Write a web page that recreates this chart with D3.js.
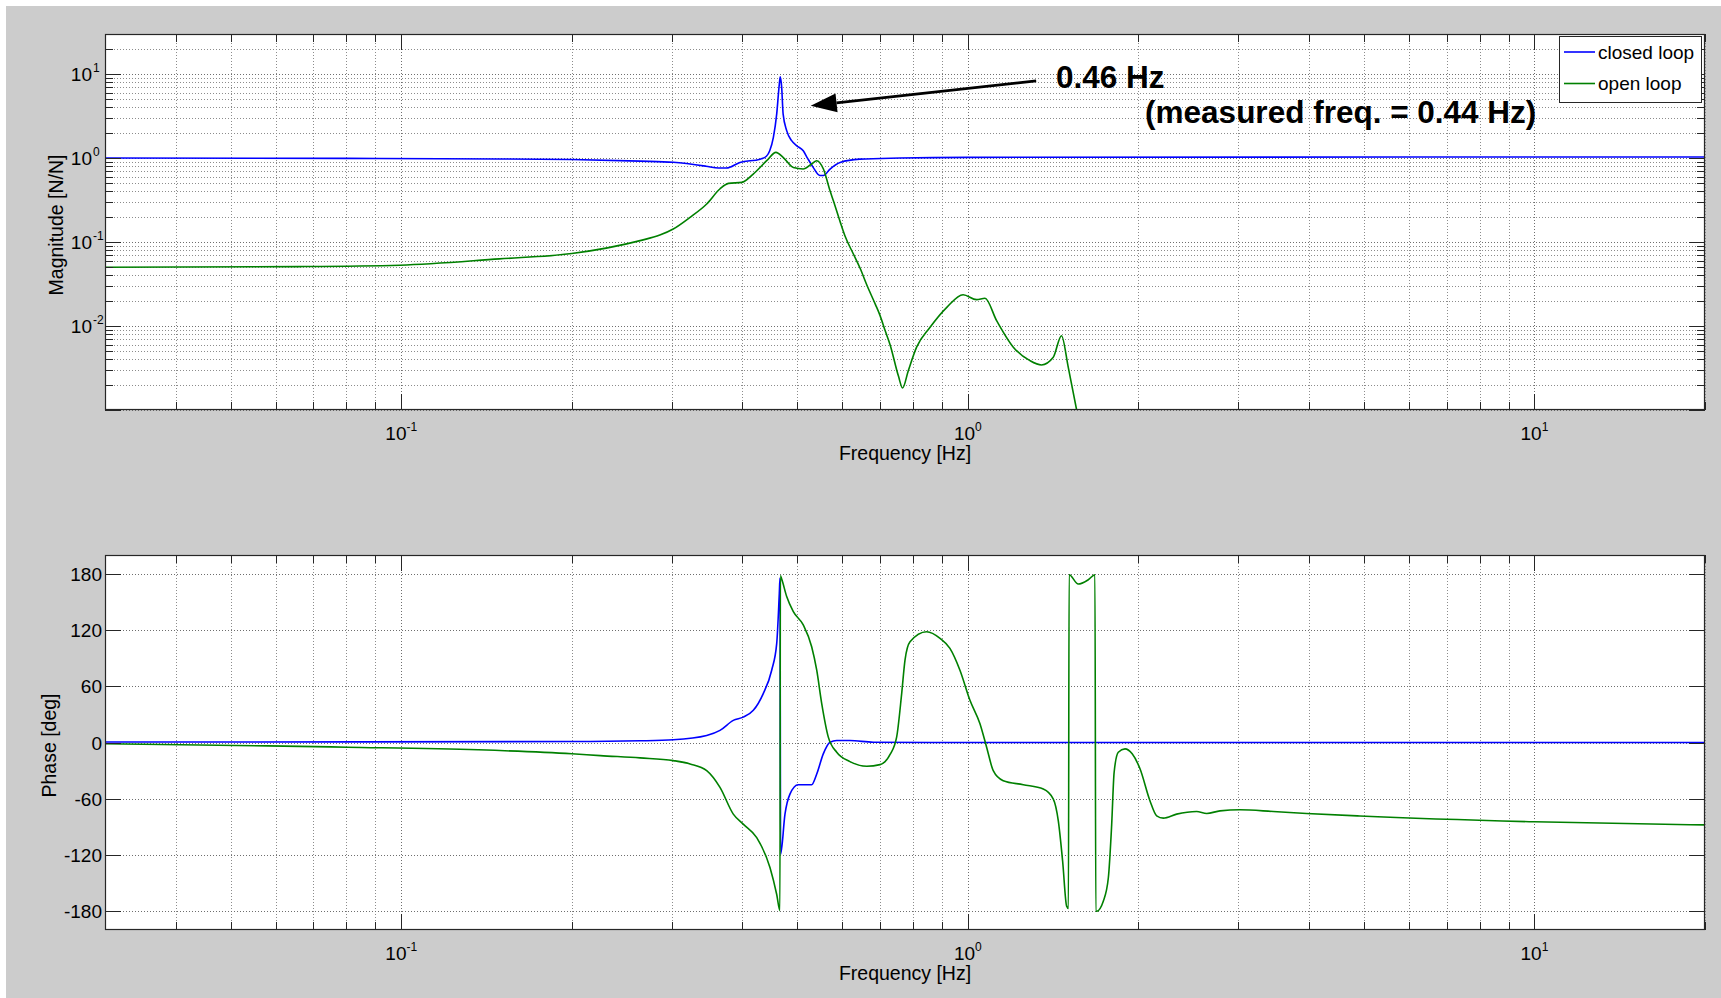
<!DOCTYPE html>
<html>
<head>
<meta charset="utf-8">
<script src="https://cdn.jsdelivr.net/npm/d3@7"></script>
<style>
  body { margin: 0; background: #fff; }
  text { font-family: "Liberation Sans", Arial, Helvetica, sans-serif; fill: #000; }
</style>
</head>
<body>
<div id="chart"></div>
<script>
// --- data ---
const seriesNames = ["closed loop", "open loop"];

// magnitude, closed loop
const freqClosedMag = [0.03, 0.08, 0.15, 0.2, 0.264, 0.302, 0.345, 0.363, 0.375, 0.396, 0.43, 0.441, 0.447, 0.4537, 0.4599, 0.4648, 0.4666, 0.4693, 0.472, 0.4789, 0.4886, 0.499, 0.5123, 0.5211, 0.533, 0.548, 0.556, 0.5712, 0.595, 0.645, 0.759, 1.0, 20];
const magClosed = [1.0, 0.99, 0.975, 0.96, 0.92, 0.89, 0.80, 0.76, 0.76, 0.887, 0.97, 1.05, 1.22, 1.76, 3.35, 7.6, 9.3, 6.9, 3.35, 2.12, 1.61, 1.40, 1.22, 1.0, 0.78, 0.62, 0.62, 0.74, 0.887, 0.97, 1.0, 1.02, 1.03];

// magnitude, open loop
const freqOpenMag = [0.03, 0.066, 0.0995, 0.149, 0.2, 0.264, 0.286, 0.302, 0.3234, 0.346, 0.365, 0.378, 0.399, 0.418, 0.4415, 0.4585, 0.472, 0.492, 0.512, 0.530, 0.541, 0.556, 0.571, 0.579, 0.595, 0.607, 0.628, 0.646, 0.663, 0.687, 0.700, 0.715, 0.729, 0.754, 0.767, 0.785, 0.812, 0.857, 0.918, 0.981, 1.036, 1.072, 1.124, 1.203, 1.287, 1.349, 1.415, 1.463, 1.504, 1.556];
const magOpen = [0.050, 0.051, 0.053, 0.063, 0.073, 0.104, 0.121, 0.143, 0.197, 0.284, 0.428, 0.50, 0.513, 0.645, 0.93, 1.17, 1.02, 0.77, 0.74, 0.85, 0.93, 0.74, 0.41, 0.31, 0.175, 0.118, 0.072, 0.048, 0.031, 0.018, 0.0133, 0.0087, 0.006, 0.00255, 0.00183, 0.00294, 0.0056, 0.0096, 0.0167, 0.0236, 0.0206, 0.0214, 0.0116, 0.0056, 0.00387, 0.00344, 0.00424, 0.00767, 0.00322, 0.001];

// phase, closed loop
const freqClosedPh = [0.03, 0.2, 0.264, 0.302, 0.346, 0.3652, 0.3855, 0.4014, 0.4182, 0.4354, 0.4506, 0.4599, 0.4648, 0.4661, 0.4672, 0.4756, 0.4853, 0.502, 0.5301, 0.5411, 0.5557, 0.5712, 0.5869, 0.6193, 0.681, 1.0, 20];
const phaseClosed = [0.5, 1.0, 1.8, 2.9, 7.5, 12.9, 23.6, 27.1, 34.3, 52.2, 77.1, 105.7, 159.3, 175.4, -119.3, -76.4, -55, -45, -45, -33.6, -12.1, 0.3, 2.1, 2.1, 0.3, 0, 0];

// phase, open loop
const freqOpenPh = [0.03, 0.0582, 0.0802, 0.1366, 0.2, 0.2245, 0.2639, 0.3021, 0.3234, 0.346, 0.3652, 0.3855, 0.4014, 0.424, 0.4476, 0.4599, 0.4660, 0.4668, 0.4693, 0.4789, 0.492, 0.5123, 0.5301, 0.5411, 0.5522, 0.5672, 0.5869, 0.6193, 0.663, 0.6998, 0.7286, 0.7487, 0.7642, 0.7746, 0.7906, 0.8459, 0.8932, 0.9298, 0.9684, 1.0086, 1.0505, 1.0793, 1.1087, 1.1547, 1.2527, 1.3587, 1.4153, 1.4443, 1.4698, 1.494, 1.505, 1.509, 1.5663, 1.6313, 1.6762, 1.682, 1.6877, 1.734, 1.770, 1.794, 1.812, 1.843, 1.894, 1.95, 2.013, 2.096, 2.154, 2.213, 2.336, 2.534, 2.640, 2.786, 3.022, 3.459, 3.962, 4.92, 10, 20];
const phaseOpen = [-1.4, -3.6, -5, -7.8, -12, -14, -16.4, -19.3, -22.9, -30, -47.9, -76.4, -87.1, -101.5, -133.6, -162.1, -179.3, 178, 174.3, 155.7, 139.6, 125.4, 102.1, 77.1, 41.5, 5.7, -10.4, -20.4, -25.4, -23.6, -13, 5.7, 52.2, 87.9, 107.5, 118.2, 111.1, 100.4, 77.1, 45, 20, -5, -30, -40.7, -45, -49.6, -60.3, -83.6, -126.4, -174.6, -177, 179, 169, 173.6, 178.9, -180, -180, -169.3, -144.3, -88, -32, -10.4, -6.8, -12.1, -28, -62.1, -78.2, -80.7, -76.4, -73.6, -75.7, -72.9, -71.8, -73.6, -75.7, -78.4, -84.6, -87.9];

// tick labels
const freqTickExps = [-1, 0, 1];
const magTickExps = [1, 0, -1, -2];
const phaseTicks = [-180, -120, -60, 0, 60, 120, 180];

// annotation (arrow from -> to, in data units)
const arrowFreq = [1.32, 0.528];
const arrowMag = [8.3, 4.2];
const noteLines = ["0.46 Hz", "(measured freq. = 0.44 Hz)"];
const noteFreq = [1.431, 2.055];
const noteMag = [6.8, 2.64];

// --- layout ---
const W = 1721, H = 998;
const plotLeft = 105, plotW = 1600;
const magTop = 34, magH = 376;
const phTop = 555, phH = 375;
const colors = ["#0000ff", "#008000"];
const axisColor = "#262626";

const svg = d3.select("#chart").append("svg")
    .attr("width", W)
    .attr("height", H);

svg.append("rect")
    .attr("x", 6).attr("y", 6)
    .attr("width", W - 6).attr("height", H - 6)
    .attr("fill", "#cccccc");

const x = d3.scaleLog().domain([0.03, 20]).range([0, plotW]);
const yMag = d3.scaleLog().domain([0.001, 30]).range([magH, 0]);
const yPh = d3.scaleLinear().domain([-200, 200]).range([phH, 0]);

const isDecade = v => Math.abs(Math.log10(v) - Math.round(Math.log10(v))) < 1e-6;
const xAll = x.ticks();
const xMajor = xAll.filter(isDecade);
const xMinor = xAll.filter(v => !isDecade(v));
const magAll = yMag.ticks();
const magMajor = magAll.filter(isDecade);
const magMinor = magAll.filter(v => !isDecade(v));

function grid(g, axisFn, scale, values, len, transform, color) {
    const a = g.append("g")
        .attr("transform", transform)
        .call(axisFn(scale).tickValues(values).tickSize(-len).tickFormat(""));
    a.select(".domain").remove();
    a.selectAll("text").remove();
    a.selectAll("line")
        .attr("stroke", color)
        .attr("stroke-dasharray", "1,2")
        .attr("shape-rendering", "crispEdges");
}

function ticks(g, axisFn, scale, values, size, transform) {
    const a = g.append("g")
        .attr("transform", transform)
        .call(axisFn(scale).tickValues(values).tickSize(-size).tickFormat(""));
    a.select(".domain").remove();
    a.selectAll("text").remove();
    a.selectAll("line")
        .attr("stroke", axisColor)
        .attr("shape-rendering", "crispEdges");
}

function panel(top, h, y, yMajor, yMinor, clipId) {
    const g = svg.append("g").attr("transform", `translate(${plotLeft},${top})`);
    g.append("rect").attr("width", plotW).attr("height", h).attr("fill", "#fff");

    // grid: x minor + major, y major (+ minor when given)
    grid(g, d3.axisBottom, x, xMinor, h, `translate(0,${h})`, "#8c8c8c");
    grid(g, d3.axisBottom, x, xMajor, h, `translate(0,${h})`, "#6e6e6e");
    if (yMinor.length) grid(g, d3.axisLeft, y, yMinor, plotW, "translate(0,0)", "#8c8c8c");
    grid(g, d3.axisLeft, y, yMajor, plotW, "translate(0,0)", "#6e6e6e");

    g.append("clipPath").attr("id", clipId)
        .append("rect").attr("width", plotW).attr("height", h);

    const frame = g.append("g");
    ticks(frame, d3.axisBottom, x, xMinor, 8, `translate(0,${h})`);
    ticks(frame, d3.axisBottom, x, xMajor, 16, `translate(0,${h})`);
    ticks(frame, d3.axisTop, x, xMinor, 8, "translate(0,0)");
    ticks(frame, d3.axisTop, x, xMajor, 16, "translate(0,0)");
    if (yMinor.length) {
        ticks(frame, d3.axisLeft, y, yMinor, 8, "translate(0,0)");
        ticks(frame, d3.axisRight, y, yMinor, 8, `translate(${plotW},0)`);
    }
    ticks(frame, d3.axisLeft, y, yMajor, 16, "translate(0,0)");
    ticks(frame, d3.axisRight, y, yMajor, 16, `translate(${plotW},0)`);
    frame.append("rect")
        .attr("x", 0.5).attr("y", 0.5)
        .attr("width", plotW - 1).attr("height", h - 1)
        .attr("fill", "none")
        .attr("stroke", axisColor)
        .attr("stroke-width", 1.2);

    // x tick labels 10^n
    g.selectAll(".xlab")
        .data(freqTickExps)
        .join("text")
        .attr("class", "xlab")
        .attr("x", d => x(Math.pow(10, d)))
        .attr("y", h + 30)
        .attr("text-anchor", "middle")
        .style("font-size", "19px")
        .each(function (d) {
            const t = d3.select(this);
            t.append("tspan").text("10");
            t.append("tspan").attr("dy", -9).style("font-size", "12px").text(d);
        });

    g.append("text")
        .attr("x", plotW / 2)
        .attr("y", h + 50)
        .attr("text-anchor", "middle")
        .style("font-size", "19.5px")
        .text("Frequency [Hz]");

    return { g, frame };
}

const line = (sx, sy) => d3.line()
    .x(d => sx(d[0]))
    .y(d => sy(d[1]))
    .curve(d3.curveMonotoneX);

// ---------- magnitude ----------
const mag = panel(magTop, magH, yMag, magMajor, magMinor, "clipMag");
const magSeries = [
    d3.zip(freqClosedMag, magClosed),
    d3.zip(freqOpenMag, magOpen)
];
mag.g.insert("g", () => mag.frame.node())
    .attr("clip-path", "url(#clipMag)")
    .selectAll("path")
    .data(magSeries)
    .join("path")
    .attr("d", line(x, yMag))
    .attr("fill", "none")
    .attr("stroke", (d, i) => colors[i])
    .attr("stroke-width", 1.6)
    .attr("stroke-linejoin", "round");

mag.g.selectAll(".ylab")
    .data(magTickExps)
    .join("g")
    .attr("class", "ylab")
    .attr("transform", d => `translate(0,${yMag(Math.pow(10, d))})`)
    .each(function (d) {
        const t = d3.select(this);
        t.append("text").attr("x", -13).attr("y", 7)
            .attr("text-anchor", "end").style("font-size", "19px").text("10");
        t.append("text").attr("x", -12).attr("y", -2)
            .style("font-size", "12px").text(d);
    });

mag.g.append("text")
    .attr("transform", `translate(-42,${magH / 2 + 3}) rotate(-90)`)
    .attr("text-anchor", "middle")
    .style("font-size", "19.5px")
    .text("Magnitude [N/N]");

// legend
const leg = mag.g.append("g").attr("transform", `translate(${plotW - 146},2)`);
leg.append("rect")
    .attr("x", 0.5).attr("y", 0.5)
    .attr("width", 142).attr("height", 66)
    .attr("fill", "#fff")
    .attr("stroke", axisColor);
seriesNames.forEach((name, i) => {
    const ly = 16 + i * 31.5;
    leg.append("line")
        .attr("x1", 5).attr("x2", 36)
        .attr("y1", ly).attr("y2", ly)
        .attr("stroke", colors[i]).attr("stroke-width", 1.6);
    leg.append("text")
        .attr("x", 39).attr("y", ly + 6.5)
        .style("font-size", "19px")
        .text(name);
});

// annotation arrow + text
const ax0 = x(arrowFreq[0]), ay0 = yMag(arrowMag[0]);
const ax1 = x(arrowFreq[1]), ay1 = yMag(arrowMag[1]);
const ang = Math.atan2(ay1 - ay0, ax1 - ax0);
const headLen = 26, headHalf = 9.5;
const bx = ax1 - headLen * Math.cos(ang), by = ay1 - headLen * Math.sin(ang);
mag.g.append("line")
    .attr("x1", ax0).attr("y1", ay0)
    .attr("x2", bx).attr("y2", by)
    .attr("stroke", "#000").attr("stroke-width", 2.8);
mag.g.append("path")
    .attr("d", d3.line()([
        [ax1, ay1],
        [bx + headHalf * Math.sin(ang), by - headHalf * Math.cos(ang)],
        [bx - headHalf * Math.sin(ang), by + headHalf * Math.cos(ang)]
    ]) + "Z")
    .attr("fill", "#000");

mag.g.selectAll(".note")
    .data(noteLines)
    .join("text")
    .attr("class", "note")
    .attr("x", (d, i) => x(noteFreq[i]))
    .attr("y", (d, i) => yMag(noteMag[i]))
    .style("font-size", "31.5px")
    .style("font-weight", "bold")
    .text(d => d);

// ---------- phase ----------
const ph = panel(phTop, phH, yPh, phaseTicks, [], "clipPh");
const phSeries = [
    d3.zip(freqClosedPh, phaseClosed),
    d3.zip(freqOpenPh, phaseOpen)
];
ph.g.insert("g", () => ph.frame.node())
    .attr("clip-path", "url(#clipPh)")
    .selectAll("path")
    .data(phSeries)
    .join("path")
    .attr("d", line(x, yPh))
    .attr("fill", "none")
    .attr("stroke", (d, i) => colors[i])
    .attr("stroke-width", 1.6)
    .attr("stroke-linejoin", "round");

ph.g.selectAll(".ylab")
    .data(phaseTicks)
    .join("text")
    .attr("class", "ylab")
    .attr("x", -3)
    .attr("y", d => yPh(d) + 7)
    .attr("text-anchor", "end")
    .style("font-size", "19px")
    .text(d => d);

ph.g.append("text")
    .attr("transform", `translate(-49.5,${phH / 2 + 3}) rotate(-90)`)
    .attr("text-anchor", "middle")
    .style("font-size", "19.5px")
    .text("Phase [deg]");
</script>
</body>
</html>
